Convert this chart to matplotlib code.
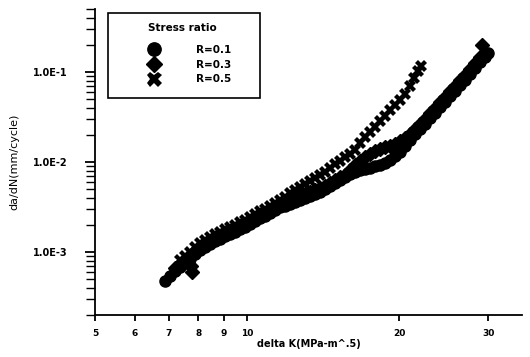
import matplotlib
matplotlib.use("Agg")
import matplotlib.pyplot as plt
from matplotlib.patches import Rectangle
from matplotlib.ticker import FixedLocator, NullLocator, NullFormatter, LogLocator

# R = 0.1 (circles)
dk_r01 = [6.88, 7.04, 7.20, 7.37, 7.54, 7.71, 7.89, 8.07, 8.26, 8.45, 8.64, 8.84, 9.04, 9.25,
          9.47, 9.68, 9.91, 10.14, 10.37, 10.61, 10.85, 11.10, 11.36, 11.62, 11.89, 12.17, 12.45,
          12.73, 13.03, 13.33, 13.63, 13.95, 14.27, 14.60, 14.94, 15.28, 15.63, 16.00, 16.36,
          16.74, 17.13, 17.52, 17.93, 18.34, 18.76, 19.20, 19.64, 20.09, 20.56, 21.03, 21.51,
          22.01, 22.52, 23.04, 23.57, 24.12, 24.67, 25.24, 25.82, 26.42, 27.02, 27.65, 28.28,
          28.94, 29.60, 30.01]
dadn_r01 = [4.76e-4, 5.41e-4, 6.15e-4, 6.81e-4, 7.55e-4, 8.36e-4, 9.50e-4, 1.052e-3, 1.137e-3,
            1.227e-3, 1.325e-3, 1.395e-3, 1.506e-3, 1.585e-3, 1.668e-3, 1.801e-3, 1.896e-3,
            2.047e-3, 2.21e-3, 2.387e-3, 2.512e-3, 2.71e-3, 2.93e-3, 3.162e-3, 3.24e-3, 3.41e-3,
            3.59e-3, 3.78e-3, 3.98e-3, 4.19e-3, 4.41e-3, 4.64e-3, 5.01e-3, 5.41e-3, 5.85e-3,
            6.31e-3, 6.81e-3, 7.36e-3, 7.74e-3, 8.15e-3, 8.36e-3, 8.58e-3, 9.03e-3, 9.26e-3,
            9.75e-3, 1.052e-2, 1.166e-2, 1.292e-2, 1.506e-2, 1.756e-2, 2.047e-2, 2.326e-2,
            2.643e-2, 3.08e-2, 3.50e-2, 4.08e-2, 4.64e-2, 5.41e-2, 6.15e-2, 7.17e-2, 8.15e-2,
            9.50e-2, 0.1108, 0.1292, 0.1468, 0.1626]

# R = 0.3 (diamonds)
dk_r03 = [7.20, 7.37, 7.54, 7.71, 7.75, 7.78, 7.89, 8.07, 8.26, 8.45, 8.64, 8.84, 9.04, 9.25,
          9.47, 9.68, 9.91, 10.14, 10.37, 10.61, 10.85, 11.10, 11.36, 11.62, 11.89, 12.17, 12.45,
          12.73, 13.03, 13.33, 13.63, 13.95, 14.27, 14.60, 14.94, 15.28, 15.63, 16.00, 16.36,
          16.74, 17.13, 17.52, 17.93, 18.34, 18.76, 19.20, 19.64, 20.09, 20.56, 21.03, 21.51,
          22.01, 22.52, 23.04, 23.57, 24.12, 24.67, 25.24, 25.82, 26.42, 27.02, 27.65, 28.28,
          28.94, 29.20]
dadn_r03 = [6.64e-4, 7.36e-4, 8.15e-4, 9.03e-4, 6.99e-4, 6.0e-4, 1.026e-3, 1.137e-3, 1.227e-3,
            1.325e-3, 1.431e-3, 1.506e-3, 1.626e-3, 1.711e-3, 1.801e-3, 1.945e-3, 2.047e-3,
            2.21e-3, 2.387e-3, 2.577e-3, 2.71e-3, 2.93e-3, 3.162e-3, 3.41e-3, 3.59e-3, 3.78e-3,
            3.98e-3, 4.19e-3, 4.41e-3, 4.64e-3, 4.89e-3, 5.14e-3, 5.41e-3, 5.85e-3, 6.31e-3,
            6.81e-3, 7.17e-3, 8.15e-3, 9.26e-3, 1.026e-2, 1.137e-2, 1.227e-2, 1.325e-2, 1.395e-2,
            1.468e-2, 1.506e-2, 1.585e-2, 1.711e-2, 1.848e-2, 2.047e-2, 2.326e-2, 2.643e-2,
            3.005e-2, 3.50e-2, 3.98e-2, 4.64e-2, 5.27e-2, 6.15e-2, 6.99e-2, 8.15e-2, 9.26e-2,
            0.108, 0.1259, 0.1468, 0.1995]

# R = 0.5 (crosses)
dk_r05 = [7.37, 7.54, 7.71, 7.89, 8.07, 8.26, 8.45, 8.64, 8.84, 9.04, 9.25, 9.47, 9.68, 9.91,
          10.14, 10.37, 10.61, 10.85, 11.10, 11.36, 11.62, 11.89, 12.17, 12.45, 12.73, 13.03,
          13.33, 13.63, 13.95, 14.27, 14.60, 14.94, 15.28, 15.63, 16.00, 16.36, 16.74, 17.13,
          17.52, 17.93, 18.34, 18.76, 19.20, 19.64, 20.09, 20.56, 21.03, 21.41, 21.81, 22.11]
dadn_r05 = [8.15e-4, 9.03e-4, 1.0e-3, 1.137e-3, 1.259e-3, 1.359e-3, 1.468e-3, 1.585e-3, 1.668e-3,
            1.801e-3, 1.896e-3, 1.995e-3, 2.154e-3, 2.268e-3, 2.448e-3, 2.643e-3, 2.855e-3,
            3.005e-3, 3.24e-3, 3.50e-3, 3.78e-3, 4.08e-3, 4.52e-3, 4.89e-3, 5.27e-3, 5.70e-3,
            6.15e-3, 6.64e-3, 7.17e-3, 7.74e-3, 8.58e-3, 9.50e-3, 1.026e-2, 1.137e-2, 1.227e-2,
            1.359e-2, 1.626e-2, 1.896e-2, 2.154e-2, 2.448e-2, 2.855e-2, 3.24e-2, 3.78e-2,
            4.30e-2, 4.89e-2, 5.70e-2, 6.99e-2, 8.58e-2, 0.1026, 0.1166]

series_labels = ["R=0.1", "R=0.3", "R=0.5"]
legend_title = "Stress ratio"
x_ticks = [5, 6, 7, 8, 9, 10, 20, 30]
x_tick_labels = ["5", "6", "7", "8", "9", "10", "20", "30"]
y_ticks = [1e-3, 1e-2, 1e-1]
y_tick_labels = ["1.0E-3", "1.0E-2", "1.0E-1"]

plt.rcParams['font.family'] = ['DejaVu Sans']

W, H = 530, 357
fig = plt.figure(figsize=(W/100, H/100), dpi=100)
ax = fig.add_axes([95/W, 1-315/H, 427/W, 306/H])

ax.plot(dk_r01, dadn_r01, 'o', color='black', markersize=8, label=series_labels[0])
ax.plot(dk_r03, dadn_r03, 'D', color='black', markersize=6.8, label=series_labels[1])
ax.plot(dk_r05, dadn_r05, 'X', color='black', markersize=9, markeredgewidth=0,
        label=series_labels[2])

ax.set_xscale('log')
ax.set_yscale('log')
ax.set_xlim(5, 35)
ax.set_ylim(2e-4, 0.5)

ax.spines['top'].set_visible(False)
ax.spines['right'].set_visible(False)
ax.spines['left'].set_linewidth(1.3)
ax.spines['bottom'].set_linewidth(1.3)

ax.xaxis.set_major_locator(FixedLocator(x_ticks))
ax.set_xticklabels(x_tick_labels)
ax.xaxis.set_minor_locator(NullLocator())
ax.xaxis.set_minor_formatter(NullFormatter())
ax.tick_params(axis='x', which='major', direction='out', length=4, width=1.3,
               labelsize=6.5, pad=6)
for t in ax.get_xticklabels():
    t.set_fontweight('bold')

ax.yaxis.set_major_locator(FixedLocator(y_ticks))
ax.set_yticklabels(y_tick_labels)
ax.yaxis.set_minor_locator(LogLocator(base=10, subs=[2, 3, 4, 5, 6, 7, 8, 9]))
ax.yaxis.set_minor_formatter(NullFormatter())
ax.tick_params(axis='y', which='major', direction='out', length=7.5, width=1.3,
               labelsize=7, pad=12)
ax.tick_params(axis='y', which='minor', direction='out', length=6.5, width=1.0)
for t in ax.get_yticklabels():
    t.set_fontweight('bold')

ax.set_xlabel("delta K(MPa-m^.5)", fontsize=7, fontweight='bold', labelpad=1)
ax.set_ylabel("da/dN(mm/cycle)", fontsize=8)
ax.yaxis.set_label_coords(-0.178, 0.5)

# legend: frame and title placed as in the reference
fig.patches.append(Rectangle((108/W, 1-98/H), 152/W, 85/H, transform=fig.transFigure,
                             fill=False, edgecolor='black', linewidth=1.2))
fig.text(182/W, 1-28/H, legend_title, ha='center', va='center', fontsize=7.5,
         fontweight='bold')
leg = ax.legend(loc='upper left', bbox_to_anchor=(144/W, 1-45/H),
                bbox_transform=fig.transFigure, fontsize=7.5, markerscale=1.2,
                frameon=False, borderpad=0, borderaxespad=0, labelspacing=0.45,
                handlelength=2.0, handletextpad=3.0)
for t in leg.get_texts():
    t.set_fontweight('bold')

fig.savefig("out.png", dpi=100)
